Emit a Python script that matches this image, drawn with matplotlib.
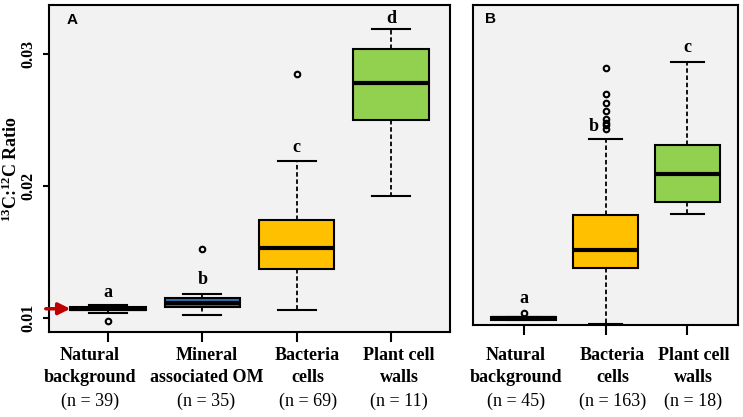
import numpy as np
import matplotlib
matplotlib.use("Agg")
import matplotlib.pyplot as plt
from matplotlib.transforms import blended_transform_factory, offset_copy

# Panel A
groups_a = ["Natural\nbackground", "Mineral\nassociated OM", "Bacteria\ncells", "Plant cell\nwalls"]
n_a = [39, 35, 69, 11]
med_a = [0.0107, 0.0111, 0.0153, 0.0278]
q1_a = [0.0106, 0.0108, 0.0137, 0.0250]
q3_a = [0.0108, 0.0115, 0.0174, 0.0304]
lo_a = [0.0104, 0.0102, 0.0106, 0.0192]
hi_a = [0.0110, 0.0118, 0.0219, 0.0319]
fliers_a = [[0.0098], [0.0152], [0.0285], []]
letters_a = ["a", "b", "c", "d"]
letter_y_a = [0.0119, 0.0129, 0.0229, 0.0327]
colors_a = ["#333333", "#2E75B6", "#FFC000", "#92D050"]

# Panel B
groups_b = ["Natural\nbackground", "Bacteria\ncells", "Plant cell\nwalls"]
n_b = [45, 163, 18]
med_b = [0.0100, 0.0152, 0.0209]
q1_b = [0.0099, 0.0138, 0.0188]
q3_b = [0.0101, 0.0178, 0.0231]
lo_b = [0.0099, 0.0096, 0.0179]
hi_b = [0.0101, 0.0236, 0.0294]
fliers_b = [[0.0104], [0.0289, 0.0270, 0.0263, 0.0257, 0.0251, 0.0248, 0.0246, 0.0243], []]
letters_b = ["a", "b", "c"]
letter_y_b = [0.0115, 0.0245, 0.0305]
colors_b = ["#333333", "#FFC000", "#92D050"]

serif = "Liberation Serif"
sans = "Liberation Sans"
bg = "#F2F2F2"

plt.rcParams["mathtext.fontset"] = "custom"
plt.rcParams["mathtext.rm"] = "Liberation Serif"
plt.rcParams["mathtext.bf"] = "Liberation Serif:bold"

fig = plt.figure(figsize=(7.43, 4.17), dpi=100)
ax_a = fig.add_axes([49/743, 1-332/417, 401/743, 327/417])
ax_b = fig.add_axes([473/743, 1-325/417, 265/743, 320/417])


def draw_panel(ax, groups, n, med, q1, q3, lo, hi, fliers, colors, letters, ly,
               letter_shift, label_shift):
    stats = []
    for i in range(len(groups)):
        stats.append(dict(med=med[i], q1=q1[i], q3=q3[i], whislo=lo[i], whishi=hi[i],
                          fliers=fliers[i], label=""))
    pos = np.arange(1, len(groups) + 1)
    bp = ax.bxp(stats, positions=pos, widths=0.8, patch_artist=True,
                boxprops=dict(edgecolor="black", linewidth=1.5),
                medianprops=dict(color="black", linewidth=3),
                whiskerprops=dict(color="black", linewidth=1.3, linestyle=(0, (2.5, 1.5))),
                capprops=dict(color="black", linewidth=1.5),
                flierprops=dict(marker="o", markersize=4, markerfacecolor="none",
                                markeredgecolor="black", markeredgewidth=1.5),
                capwidths=0.4)
    for patch, c in zip(bp["boxes"], colors):
        patch.set_facecolor(c)
    ax.set_facecolor(bg)
    for s in ax.spines.values():
        s.set_linewidth(1.5)
    ax.set_xticks(pos)
    ax.set_xticklabels([])
    ax.tick_params(axis="x", length=7, width=1.5, direction="out")
    tr = blended_transform_factory(ax.transData, fig.transFigure)
    for i, g in enumerate(groups):
        ltr = offset_copy(ax.transData, fig=fig, x=letter_shift[i], units="dots")
        ax.text(pos[i], ly[i], letters[i], ha="center", va="center", transform=ltr,
                fontfamily=serif, fontweight="bold", fontsize=13)
        gtr = offset_copy(tr, fig=fig, x=label_shift[i], units="dots")
        ax.text(pos[i], 1 - 347/417, g, ha="center", va="top", transform=gtr,
                fontfamily=serif, fontweight="bold", fontsize=13, linespacing=1.4)
        ax.text(pos[i], 1 - 401/417, f"(n = {n[i]})", ha="center", va="center",
                transform=gtr, fontfamily=serif, fontsize=13)
    return bp


bp_a = draw_panel(ax_a, groups_a, n_a, med_a, q1_a, q3_a, lo_a, hi_a, fliers_a,
                  colors_a, letters_a, letter_y_a, [0, 0, 0, 0], [-18, 4, 11, 8])
bp_b = draw_panel(ax_b, groups_b, n_b, med_b, q1_b, q3_b, lo_b, hi_b, fliers_b,
                  colors_b, letters_b, letter_y_b, [0, -12, 0], [-8, 7, 6])

ax_a.set_xlim(0.374, 4.626)
ax_a.set_ylim(0.00894, 0.0337)
ax_b.set_xlim(0.38, 3.62)
ax_b.set_ylim(0.0095, 0.0337)

ax_a.set_yticks([0.01, 0.02, 0.03])
ax_a.set_yticklabels(["0.01", "0.02", "0.03"], rotation=90, va="center",
                     fontfamily=serif, fontweight="bold", fontsize=11.5)
ax_a.tick_params(axis="y", length=4, width=1.5, pad=5)
ax_b.set_yticks([])

ax_a.set_ylabel("$\\mathbf{^{13}}$C:$\\mathbf{^{12}}$C Ratio", fontfamily=serif,
                fontweight="bold", fontsize=13, va="center")
ax_a.yaxis.set_label_coords(-0.093, 0.5)

ax_a.text(0.057, 0.955, "A", transform=ax_a.transAxes, fontfamily=sans,
          fontweight="bold", fontsize=11, ha="center", va="center")
ax_b.text(0.065, 0.955, "B", transform=ax_b.transAxes, fontfamily=sans,
          fontweight="bold", fontsize=11, ha="center", va="center")

# red arrow marking natural background level
ax_a.annotate("", xy=(0.06, med_a[0]), xytext=(-0.015, med_a[0]),
              xycoords=("axes fraction", "data"), textcoords=("axes fraction", "data"),
              arrowprops=dict(arrowstyle="-|>,head_width=0.35,head_length=0.7",
                              color="#C00000", lw=2.5), annotation_clip=False)

fig.savefig("out.png", dpi=100)
